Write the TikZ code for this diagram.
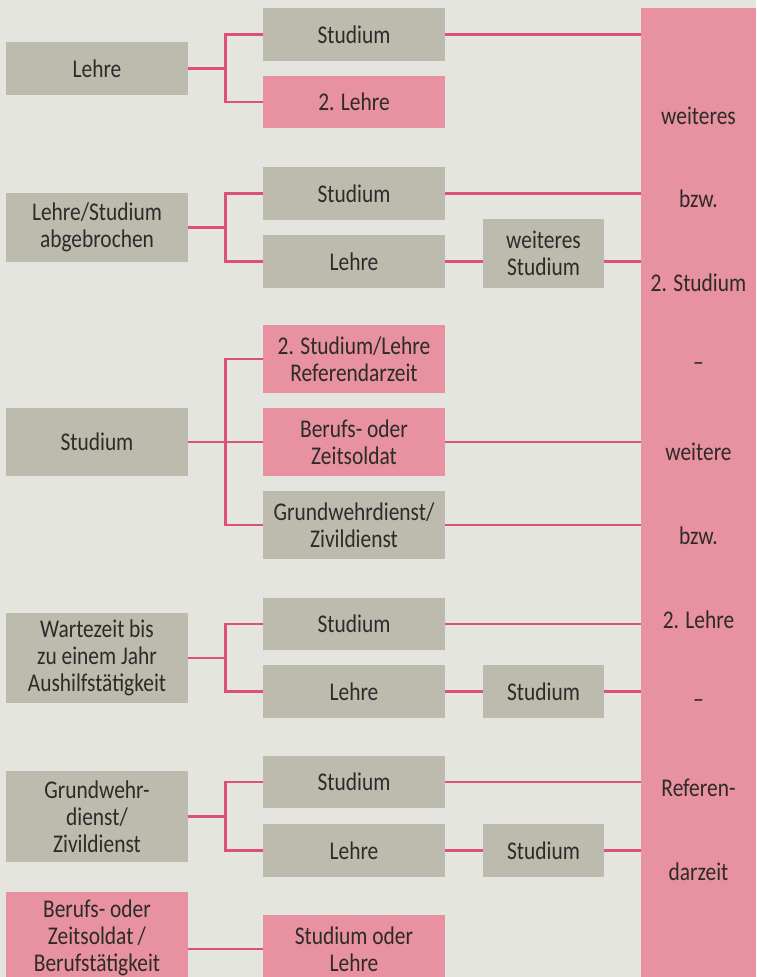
\documentclass[tikz,border=0pt]{standalone}
\usepackage{fontspec}
\setmainfont{Carlito}[FakeStretch=0.84]
\usetikzlibrary{calc}
\definecolor{bgc}{RGB}{229,229,224}
\definecolor{grayc}{RGB}{189,187,173}
\definecolor{pinkc}{RGB}{232,145,160}
\definecolor{linec}{RGB}{221,80,122}
\definecolor{txtc}{RGB}{45,42,42}
\tikzset{
  boxbase/.style={inner sep=0pt, outer sep=0pt, align=center, text=txtc, font=\fontsize{25.5}{27}\selectfont},
  gbox/.style={boxbase, fill=grayc},
  pbox/.style={boxbase, fill=pinkc},
  wide/.style={minimum width=182pt},
  narrow/.style={minimum width=121pt},
  conn/.style={draw=linec, line width=2.6pt},
  rtext/.style={text=txtc, font=\fontsize{25.5}{27}\selectfont, inner sep=0pt}
}
\begin{document}
\begin{tikzpicture}[x=1pt,y=-1pt]
\useasboundingbox (0,0) rectangle (756,977);
\clip (0,0) rectangle (756,977);
\fill[bgc] (0,0) rectangle (756,977);
% right big box
\node[pbox, minimum width=115pt, minimum height=975pt, anchor=north west] (R) at (641,8) {};
\node[rtext] (r1) at (698.5,116) {weiteres};
\node[rtext] (r2) at (698.5,199) {bzw.};
\node[rtext] (r3) at (698.5,283) {2. Studium};
\node[rtext] (r4) at (698.5,367) {–};
\node[rtext] (r5) at (698.5,452) {weitere};
\node[rtext] (r6) at (698.5,536) {bzw.};
\node[rtext] (r7) at (698.5,620) {2. Lehre};
\node[rtext] (r8) at (698.5,704) {–};
\node[rtext] (r9) at (698.5,788) {Referen-};
\node[rtext] (r10) at (698.5,872) {darzeit};
% left column
\node[gbox, wide, minimum height=53pt] (L1) at (97,68.5) {Lehre};
\node[gbox, wide, minimum height=69pt] (L2) at (97,227.5) {Lehre/Studium\\abgebrochen};
\node[gbox, wide, minimum height=68pt] (L3) at (97,442) {Studium};
\node[gbox, wide, minimum height=90pt] (L4) at (97,658) {Wartezeit bis\\zu einem Jahr\\Aushilfstätigkeit};
\node[gbox, wide, minimum height=91pt] (L5) at (97,816.5) {Grundwehr-\\dienst/\\Zivildienst};
\node[pbox, wide, minimum height=91pt] (L6) at (97,937.5) {Berufs- oder\\Zeitsoldat\,/\\Berufstätigkeit};
% middle column
\node[gbox, wide, minimum height=53pt] (M1) at (354,34.5) {Studium};
\node[pbox, wide, minimum height=52pt] (M2) at (354,102) {2. Lehre};
\node[gbox, wide, minimum height=53pt] (M3) at (354,193.5) {Studium};
\node[gbox, wide, minimum height=53pt] (M4) at (354,261.5) {Lehre};
\node[pbox, wide, minimum height=68pt] (M5) at (354,359) {2. Studium/Lehre\\Referendarzeit};
\node[pbox, wide, minimum height=68pt] (M6) at (354,442) {Berufs- oder\\Zeitsoldat};
\node[gbox, wide, minimum height=68pt] (M7) at (354,525) {Grundwehrdienst/\\Zivildienst};
\node[gbox, wide, minimum height=52pt] (M8) at (354,624) {Studium};
\node[gbox, wide, minimum height=53pt] (M9) at (354,691.5) {Lehre};
\node[gbox, wide, minimum height=52pt] (M10) at (354,782) {Studium};
\node[gbox, wide, minimum height=53pt] (M11) at (354,850.5) {Lehre};
\node[pbox, wide, minimum height=68pt] (M12) at (354,949) {Studium oder\\Lehre};
% third column
\node[gbox, narrow, minimum height=69pt] (T1) at (543.5,253.5) {weiteres\\Studium};
\node[gbox, narrow, minimum height=53pt] (T2) at (543.5,691.5) {Studium};
\node[gbox, narrow, minimum height=53pt] (T3) at (543.5,850.5) {Studium};
% junctions
\coordinate (j1) at ($(L1.east)+(37.5,0)$);
\coordinate (j2) at ($(L2.east)+(37.5,0)$);
\coordinate (j3) at ($(L3.east)+(37.5,0)$);
\coordinate (j4) at ($(L4.east)+(37.5,0)$);
\coordinate (j5) at ($(L5.east)+(37.5,0)$);
% left-to-middle connectors
\draw[conn] (L1.east) -- (j1);
\draw[conn] (M1.west) -| (j1) |- (M2.west);
\draw[conn] (L2.east) -- (j2);
\draw[conn] (M3.west) -| (j2) |- (M4.west);
\draw[conn] (L3.east) -- (M6.west);
\draw[conn] (M5.west) -| (j3) |- (M7.west);
\draw[conn] (L4.east) -- (j4);
\draw[conn] (M8.west) -| (j4) |- (M9.west);
\draw[conn] (L5.east) -- (j5);
\draw[conn] (M10.west) -| (j5) |- (M11.west);
\draw[conn] (L6.east |- M12.west) -- (M12.west);
% middle-to-right connectors
\draw[conn] (M1.east) -- (M1.east -| R.west);
\draw[conn] (M3.east) -- (M3.east -| R.west);
\draw[conn] (M4.east) -- (M4.east -| T1.west);
\draw[conn] (T1.east |- M4.east) -- (M4.east -| R.west);
\draw[conn] (M6.east) -- (M6.east -| R.west);
\draw[conn] (M7.east) -- (M7.east -| R.west);
\draw[conn] (M8.east) -- (M8.east -| R.west);
\draw[conn] (M9.east) -- (T2.west);
\draw[conn] (T2.east) -- (T2.east -| R.west);
\draw[conn] (M10.east) -- (M10.east -| R.west);
\draw[conn] (M11.east) -- (T3.west);
\draw[conn] (T3.east) -- (T3.east -| R.west);
\end{tikzpicture}
\end{document}
